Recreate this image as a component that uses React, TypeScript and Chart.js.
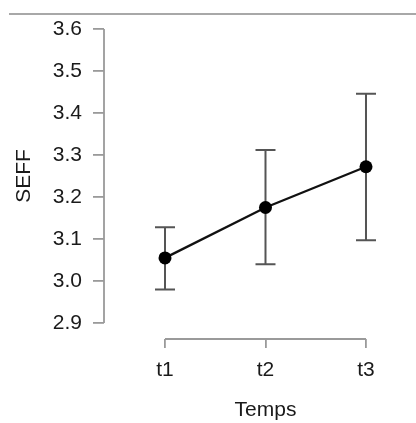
import React, { useEffect, useRef } from "react";
import { Chart, registerables } from "chart.js";

Chart.register(...registerables);

const categories = ["t1", "t2", "t3"];
const means = [3.055, 3.175, 3.272];
const lower = [2.98, 3.04, 3.097];
const upper = [3.128, 3.312, 3.446];
const yTicks = [2.9, 3.0, 3.1, 3.2, 3.3, 3.4, 3.5, 3.6];
const xTitle = "Temps";
const yTitle = "SEFF";

const FONT = "'Liberation Sans', Arial, sans-serif";
const FONT_SIZE = 21;
const TEXT = "#1a1a1a";
const AXIS = "#9a9a9a";
const BAR = "#555555";

const decor = {
  id: "decor",
  beforeDraw(chart: any) {
    const ctx = chart.ctx;
    ctx.save();
    ctx.strokeStyle = "#a8a8a8";
    ctx.lineWidth = 2;
    ctx.beginPath();
    ctx.moveTo(9, 14);
    ctx.lineTo(chart.width, 14);
    ctx.stroke();
    ctx.restore();
  },
  beforeDatasetsDraw(chart: any) {
    const ctx = chart.ctx;
    const xs = chart.scales.x;
    const ys = chart.scales.y;
    ctx.save();
    ctx.strokeStyle = BAR;
    ctx.lineWidth = 2;
    categories.forEach((_, i) => {
      const x = xs.getPixelForValue(i + 1);
      const y1 = ys.getPixelForValue(lower[i]);
      const y2 = ys.getPixelForValue(upper[i]);
      ctx.beginPath();
      ctx.moveTo(x, y1);
      ctx.lineTo(x, y2);
      ctx.moveTo(x - 10, y1);
      ctx.lineTo(x + 10, y1);
      ctx.moveTo(x - 10, y2);
      ctx.lineTo(x + 10, y2);
      ctx.stroke();
    });
    ctx.restore();
  },
  afterDraw(chart: any) {
    const ctx = chart.ctx;
    const xs = chart.scales.x;
    const ys = chart.scales.y;
    ctx.save();
    ctx.strokeStyle = AXIS;
    ctx.lineWidth = 1.8;
    ctx.beginPath();
    const yx = ys.right;
    ctx.moveTo(yx, ys.getPixelForValue(yTicks[0]));
    ctx.lineTo(yx, ys.getPixelForValue(yTicks[yTicks.length - 1]));
    const xy = xs.top;
    ctx.moveTo(xs.getPixelForValue(1), xy);
    ctx.lineTo(xs.getPixelForValue(categories.length), xy);
    ctx.stroke();

    ctx.fillStyle = TEXT;
    ctx.font = `${FONT_SIZE}px ${FONT}`;
    ctx.textAlign = "center";
    ctx.textBaseline = "middle";
    ctx.fillText(xTitle, xs.getPixelForValue((1 + categories.length) / 2), xs.top + 71);
    ctx.translate(24, ys.getPixelForValue((yTicks[0] + yTicks[yTicks.length - 1]) / 2));
    ctx.rotate(-Math.PI / 2);
    ctx.fillText(yTitle, 0, 0);
    ctx.restore();
  },
};

export default function App() {
  const ref = useRef<HTMLCanvasElement | null>(null);
  useEffect(() => {
    if (!ref.current) return;
    const chart = new Chart(ref.current, {
      type: "scatter",
      data: {
        datasets: [
          {
            data: categories.map((_, i) => ({ x: i + 1, y: means[i] })),
            showLine: true,
            borderColor: "#111111",
            borderWidth: 2.3,
            backgroundColor: "#000000",
            pointBackgroundColor: "#000000",
            pointBorderColor: "#000000",
            pointRadius: 6.5,
            pointBorderWidth: 0,
          },
        ],
      },
      options: {
        animation: false,
        responsive: true,
        maintainAspectRatio: false,
        layout: { padding: { top: 29, right: 8, bottom: 0, left: 0 } },
        plugins: { legend: { display: false }, tooltip: { enabled: false } },
        scales: {
          x: {
            type: "linear",
            min: 0.393,
            max: 3.418,
            afterBuildTicks: (s: any) => {
              s.ticks = categories.map((_, i) => ({ value: i + 1 }));
            },
            afterFit: (s: any) => {
              s.height = 84;
            },
            grid: {
              drawOnChartArea: false,
              drawTicks: true,
              tickLength: 9,
              color: AXIS,
              lineWidth: 1.8,
            },
            border: { display: false },
            ticks: {
              padding: 10,
              color: TEXT,
              font: { family: FONT, size: FONT_SIZE },
              maxRotation: 0,
              autoSkip: false,
              callback: (v: any) => categories[Math.round(v) - 1] ?? "",
            },
          },
          y: {
            type: "linear",
            min: 2.9 - 16 / 420,
            max: 3.6,
            afterBuildTicks: (s: any) => {
              s.ticks = yTicks.map((v) => ({ value: v }));
            },
            afterFit: (s: any) => {
              s.width = 104;
            },
            grid: {
              drawOnChartArea: false,
              drawTicks: true,
              tickLength: 11,
              color: AXIS,
              lineWidth: 1.8,
            },
            border: { display: false },
            ticks: {
              padding: 11,
              color: TEXT,
              font: { family: FONT, size: FONT_SIZE },
              autoSkip: false,
              callback: (v: any) => Number(v).toFixed(1),
            },
          },
        },
      },
      plugins: [decor],
    });
    return () => chart.destroy();
  }, []);
  return (
    <div style={{ position: "fixed", left: 0, top: 0, width: 416, height: 423, background: "#fff" }}>
      <canvas ref={ref} />
    </div>
  );
}
